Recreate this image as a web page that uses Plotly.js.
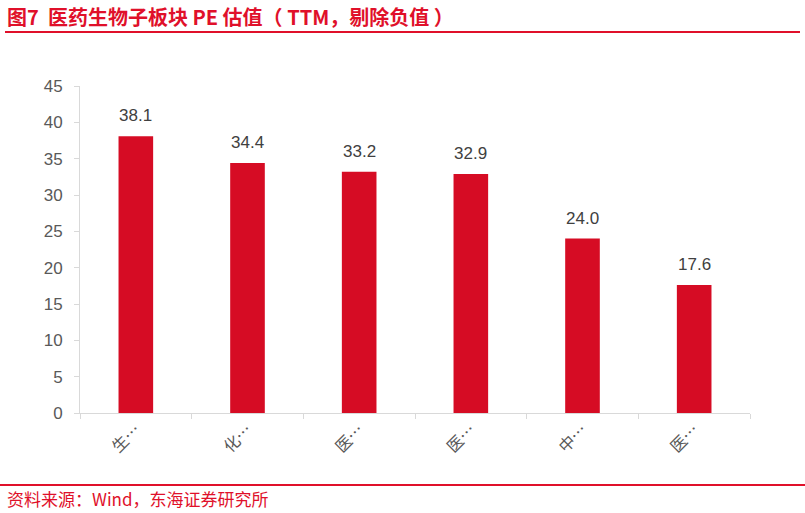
<!DOCTYPE html>
<html>
<head>
<meta charset="utf-8">
<script src="https://cdn.plot.ly/plotly-3.0.1.min.js"></script>
<style>html,body{margin:0;padding:0;background:#fff;}#chart{width:805px;height:513px;}</style>
</head>
<body>
<div id="chart"></div>
<script>
const categories = ["生物制品", "化学制药", "医疗服务", "医疗器械", "中药", "医药商业"];
const tickLabels = ["生…", "化…", "医…", "医…", "中…", "医…"];
const peValues = [38.1, 34.4, 33.2, 32.9, 24.0, 17.6];

const cjk = '"Noto Sans CJK SC", "Liberation Sans", Arial, sans-serif';
const num = '"Liberation Sans", Arial, "Noto Sans CJK SC", sans-serif';
const red = '#E0102A';

const trace = {
  type: 'bar',
  x: categories,
  y: peValues,
  marker: {color: '#D60C24'},
  hoverinfo: 'x+y'
};

const valueLabels = categories.map((c, i) => ({
  xref: 'x', yref: 'y', x: c, y: peValues[i],
  xanchor: 'center', yanchor: 'bottom', yshift: 9,
  showarrow: false, text: peValues[i].toFixed(1),
  font: {family: num, size: 17, color: '#404040'}
}));

const layout = {
  width: 805, height: 513,
  margin: {l: 0, r: 0, t: 0, b: 0},
  paper_bgcolor: '#fff', plot_bgcolor: '#fff',
  showlegend: false,
  bargap: 0.69,
  xaxis: {
    domain: [80/805, 750/805],
    type: 'category',
    tickmode: 'array',
    tickvals: categories,
    ticktext: tickLabels,
    tickangle: -45,
    tickson: 'boundaries',
    ticks: 'outside', ticklen: 5, tickcolor: '#d9d9d9',
    showline: true, linecolor: '#d9d9d9', linewidth: 1,
    showgrid: false,
    tickfont: {family: cjk, size: 16, color: '#595959'}
  },
  yaxis: {
    domain: [1 - 413/513, 1 - 86/513],
    range: [0, 45],
    dtick: 5, tick0: 0,
    ticks: 'outside', ticklen: 5, tickcolor: '#d9d9d9',
    ticklabelstandoff: 8,
    showline: true, linecolor: '#d9d9d9', linewidth: 1,
    showgrid: false, zeroline: false,
    tickfont: {family: num, size: 17, color: '#595959'}
  },
  shapes: [
    {type: 'line', xref: 'paper', yref: 'paper', x0: 5/805, x1: 800/805, y0: 1 - 32/513, y1: 1 - 32/513, line: {color: red, width: 2}},
    {type: 'line', xref: 'paper', yref: 'paper', x0: 0, x1: 1, y0: 1 - 485/513, y1: 1 - 485/513, line: {color: red, width: 2}}
  ],
  annotations: valueLabels.concat([
    {xref: 'paper', yref: 'paper', x: 5/805, y: 1 - 16/513, xanchor: 'left', yanchor: 'middle', showarrow: false,
     text: '<b>图7  医药生物子板块 PE 估值（ TTM，剔除负值 ）</b>', font: {family: cjk, size: 20, color: red}},
    {xref: 'paper', yref: 'paper', x: 5/805, y: 1 - 498/513, xanchor: 'left', yanchor: 'middle', showarrow: false,
     text: '资料来源：Wind，东海证券研究所', font: {family: cjk, size: 17, color: red}}
  ])
};

Plotly.newPlot('chart', [trace], layout, {displayModeBar: false, staticPlot: true});
</script>
</body>
</html>
